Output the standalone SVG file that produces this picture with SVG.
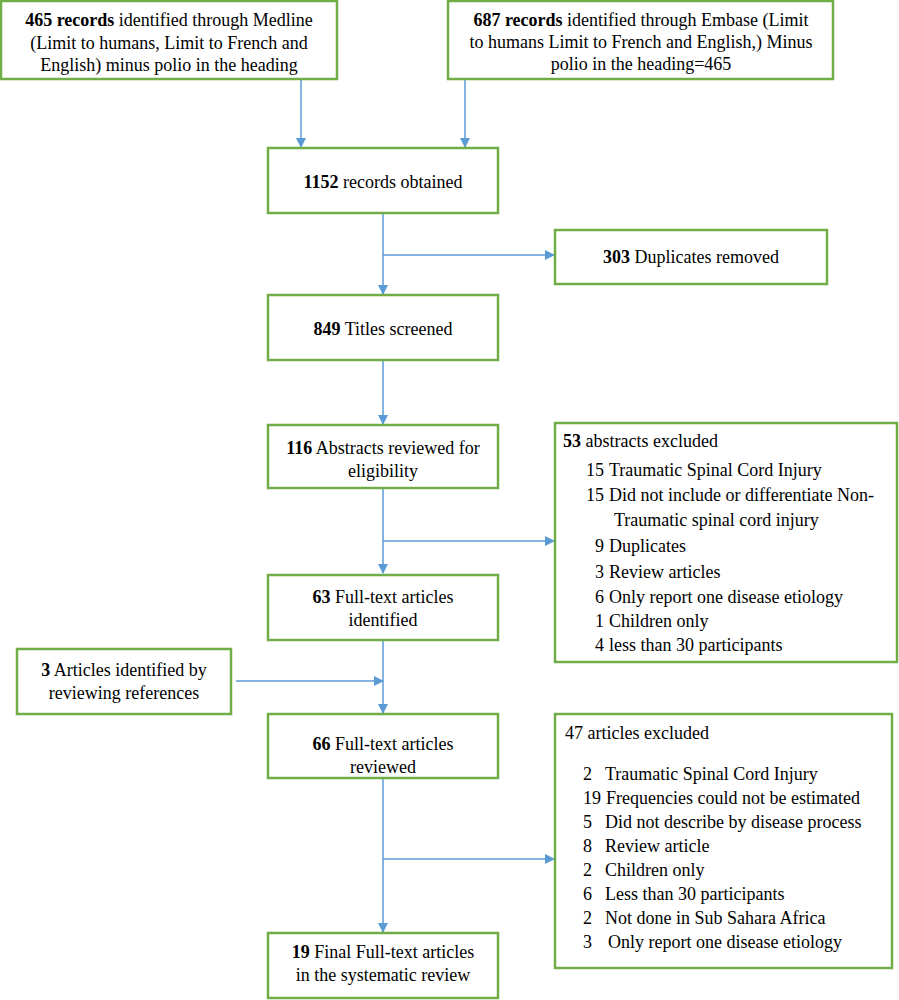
<svg xmlns="http://www.w3.org/2000/svg" width="899" height="1000" viewBox="0 0 899 1000">
<defs>
<marker id="ah" markerWidth="10" markerHeight="10" refX="9" refY="5" orient="auto" markerUnits="userSpaceOnUse">
<path d="M0,0 L10,5 L0,10 Z" fill="#5B9BD5"/>
</marker>
<style>
.box{fill:#fff;stroke:#70AD47;stroke-width:2.5}
.ln{fill:none;stroke:#5B9BD5;stroke-width:1.5}
.arr{fill:none;stroke:#5B9BD5;stroke-width:1.5;marker-end:url(#ah)}
text{font-family:"Liberation Serif","Times New Roman",serif;font-size:18px;fill:#000}
.c{text-anchor:middle}
.r{text-anchor:end}
.b{font-weight:bold}
</style>
</defs>
<rect width="899" height="1000" fill="#fff"/>
<g id="connectors">
<line class="arr" x1="301" y1="80" x2="301" y2="147"/>
<line class="arr" x1="465" y1="80" x2="465" y2="147"/>
<line class="arr" x1="383" y1="213" x2="383" y2="294"/>
<line class="arr" x1="383" y1="255" x2="554" y2="255"/>
<line class="arr" x1="383" y1="360" x2="383" y2="424"/>
<line class="arr" x1="383" y1="488" x2="383" y2="573"/>
<line class="arr" x1="383" y1="541" x2="554" y2="541"/>
<line class="arr" x1="383" y1="640" x2="383" y2="713"/>
<line class="arr" x1="236" y1="681" x2="383" y2="681"/>
<line class="arr" x1="383" y1="778" x2="383" y2="932"/>
<line class="arr" x1="383" y1="859" x2="554" y2="859"/>
</g>
<g id="n1">
<rect class="box" x="1" y="1" width="336" height="78"/>
<text class="c" x="169" y="26"><tspan class="b">465 records</tspan> identified through Medline</text>
<text class="c" x="169" y="49">(Limit to humans, Limit to French and</text>
<text class="c" x="169" y="71">English) minus polio in the heading</text>
</g>
<g id="n2">
<rect class="box" x="448" y="1" width="385" height="78"/>
<text class="c" x="641" y="26"><tspan class="b">687 records</tspan> identified through Embase (Limit</text>
<text class="c" x="641" y="48">to humans Limit to French and English,) Minus</text>
<text class="c" x="641" y="70">polio in the heading=465</text>
</g>
<g id="n3">
<rect class="box" x="268" y="148" width="230" height="65"/>
<text class="c" x="383" y="188"><tspan class="b">1152</tspan> records obtained</text>
</g>
<g id="n4">
<rect class="box" x="555" y="230" width="272" height="54"/>
<text class="c" x="691" y="263"><tspan class="b">303</tspan> Duplicates removed</text>
</g>
<g id="n5">
<rect class="box" x="268" y="295" width="230" height="65"/>
<text class="c" x="383" y="335"><tspan class="b">849</tspan> Titles screened</text>
</g>
<g id="n6">
<rect class="box" x="268" y="425" width="230" height="63"/>
<text class="c" x="383" y="454"><tspan class="b">116</tspan> Abstracts reviewed for</text>
<text class="c" x="383" y="477">eligibility</text>
</g>
<g id="n7">
<rect class="box" x="555" y="423" width="342" height="239"/>
<text x="563" y="447"><tspan class="b">53</tspan> abstracts excluded</text>
<text class="r" x="604" y="476">15</text><text x="609" y="476">Traumatic Spinal Cord Injury</text>
<text class="r" x="604" y="501">15</text><text x="609" y="501">Did not include or differentiate Non-</text>
<text x="614" y="526">Traumatic spinal cord injury</text>
<text class="r" x="604" y="552">9</text><text x="609" y="552">Duplicates</text>
<text class="r" x="604" y="578">3</text><text x="609" y="578">Review articles</text>
<text class="r" x="604" y="603">6</text><text x="609" y="603">Only report one disease etiology</text>
<text class="r" x="604" y="627">1</text><text x="609" y="627">Children only</text>
<text class="r" x="604" y="651">4</text><text x="609" y="651">less than 30 participants</text>
</g>
<g id="n8">
<rect class="box" x="268" y="575" width="230" height="65"/>
<text class="c" x="383" y="603"><tspan class="b">63</tspan> Full-text articles</text>
<text class="c" x="383" y="626">identified</text>
</g>
<g id="n9">
<rect class="box" x="17" y="649" width="214" height="65"/>
<text class="c" x="124" y="676"><tspan class="b">3</tspan> Articles identified by</text>
<text class="c" x="124" y="699">reviewing references</text>
</g>
<g id="n10">
<rect class="box" x="268" y="714" width="230" height="64"/>
<text class="c" x="383" y="750"><tspan class="b">66</tspan> Full-text articles</text>
<text class="c" x="383" y="773">reviewed</text>
</g>
<g id="n11">
<rect class="box" x="555" y="714" width="337" height="254"/>
<text x="565" y="739">47 articles excluded</text>
<text x="583" y="780">2</text><text x="605" y="780">Traumatic Spinal Cord Injury</text>
<text x="583" y="804">19</text><text x="606" y="804">Frequencies could not be estimated</text>
<text x="583" y="828">5</text><text x="605" y="828">Did not describe by disease process</text>
<text x="583" y="852">8</text><text x="605" y="852">Review article</text>
<text x="583" y="876">2</text><text x="605" y="876">Children only</text>
<text x="583" y="900">6</text><text x="605" y="900">Less than 30 participants</text>
<text x="583" y="924">2</text><text x="605" y="924">Not done in Sub Sahara Africa</text>
<text x="583" y="948">3</text><text x="608" y="948">Only report one disease etiology</text>
</g>
<g id="n12">
<rect class="box" x="268" y="933" width="230" height="65"/>
<text class="c" x="383" y="958"><tspan class="b">19</tspan> Final Full-text articles</text>
<text class="c" x="383" y="981">in the systematic review</text>
</g>
</svg>
